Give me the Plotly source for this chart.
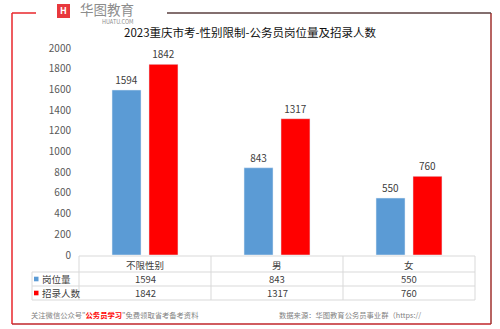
import plotly.graph_objects as go

# 数据
categories = ["不限性别", "男", "女"]
posts = [1594, 843, 550]          # 岗位量
recruits = [1842, 1317, 760]      # 招录人数
series_names = ["岗位量", "招录人数"]
y_ticks = [0, 200, 400, 600, 800, 1000, 1200, 1400, 1600, 1800, 2000]

W, H = 500, 329
L, R, T, B = 79, 25, 48, 74
BLUE = "#5B9BD5"
RED = "#FF0000"
FONT = "Noto Sans CJK SC, Microsoft YaHei, sans-serif"
TXT = "#404040"
GRID = "#D9D9D9"

pw, ph = W - L - R, H - T - B


def px(x):
    return (x - L) / pw


def py(y):
    return (H - B - y) / ph


fig = go.Figure()
fig.add_trace(go.Bar(x=categories, y=posts, name=series_names[0], marker_color=BLUE,
                     text=posts, textposition="outside", cliponaxis=False,
                     textfont=dict(size=10, color=TXT)))
fig.add_trace(go.Bar(x=categories, y=recruits, name=series_names[1], marker_color=RED,
                     text=recruits, textposition="outside", cliponaxis=False,
                     textfont=dict(size=10, color=TXT)))

shapes = []
annotations = []


def line(x0, y0, x1, y1, color=GRID, width=1):
    shapes.append(dict(type="line", xref="paper", yref="paper",
                       x0=px(x0), y0=py(y0), x1=px(x1), y1=py(y1),
                       line=dict(color=color, width=width)))


def text(x, y, s, size=9.5, color=TXT, xanchor="center", **kw):
    annotations.append(dict(xref="paper", yref="paper", x=px(x), y=py(y), text=s,
                            showarrow=False, xanchor=xanchor, yanchor="middle",
                            borderpad=0,
                            font=dict(size=size, color=color, family=FONT), **kw))


# 数据表
col_edges = [79, 211, 343, 475]
line(79, 256, 475, 256)
line(32, 272, 475, 272)
line(32, 286, 475, 286)
line(32, 300, 475, 300)
line(32, 272, 32, 300)
for xe in col_edges:
    line(xe, 256, xe, 300)
for i, c in enumerate(categories):
    cx = (col_edges[i] + col_edges[i + 1]) / 2
    text(cx, 265, c)
    text(cx, 279, str(posts[i]))
    text(cx, 293, str(recruits[i]))
for yy, name, col in [(279, series_names[0], BLUE), (293, series_names[1], RED)]:
    shapes.append(dict(type="rect", xref="paper", yref="paper",
                       x0=px(34), x1=px(38.5), y0=py(yy - 2.3), y1=py(yy + 2.3),
                       fillcolor=col, line=dict(width=0)))
    text(40.5, yy, name, xanchor="left")

# 外框
line(12, 13, 12, 324, color="#E8262B", width=1.5)
line(12, 324, 491, 324, color="#C0262B", width=1.5)
line(491, 13, 491, 324, color="#A0302E", width=1.5)
line(12, 13, 36, 13, color="#E8262B", width=1.5)
line(167, 13, 491, 13, color="#5A3F3F", width=1.5)

# 标志
shapes.append(dict(type="rect", xref="paper", yref="paper",
                   x0=px(57), x1=px(70), y0=py(18), y1=py(4),
                   fillcolor="#E8383D", line=dict(width=0)))
text(63.5, 10.5, "<b>H</b>", size=9, color="white")
text(79, 8.5, "华图教育", size=13.5, color="#8C8C8C", xanchor="left")
text(101, 22, "HUATU.COM", size=5.5, color="#8C8C8C", xanchor="left")

# 标题
text(250, 32.5, "2023重庆市考-性别限制-公务员岗位量及招录人数", size=11.5, color="#111111")

# 页脚
text(30, 315, '关注微信公众号"<span style="color:#FF0000"><b>公务员学习</b></span>"免费领取省考备考资料',
     size=7.3, color="#7F7F7F", xanchor="left")
text(278, 315, "数据来源：华图教育公务员事业群（https://",
     size=7.3, color="#7F7F7F", xanchor="left")

fig.update_layout(
    width=W, height=H,
    margin=dict(l=L, r=R, t=T, b=B, pad=0),
    paper_bgcolor="white", plot_bgcolor="white",
    showlegend=False,
    barmode="group", bargap=0.44, bargroupgap=0.216,
    font=dict(family=FONT, color=TXT),
    shapes=shapes, annotations=annotations,
    xaxis=dict(showticklabels=False, showline=False, showgrid=False, zeroline=False,
               fixedrange=True),
    yaxis=dict(range=[0, 2000], tickvals=y_ticks, showgrid=False, zeroline=False,
               showline=False, ticks="", tickfont=dict(size=10, color="#595959"),
               ticklabelstandoff=7, fixedrange=True),
)

fig.write_html("out.html", config={"displayModeBar": False})
